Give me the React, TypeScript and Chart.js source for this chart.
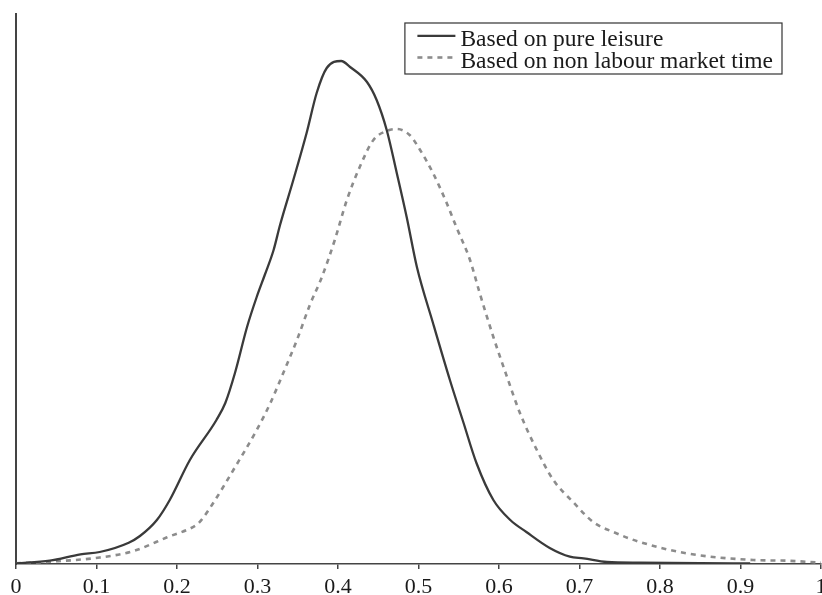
import React, { useEffect, useRef } from "react";
import { Chart, registerables } from "chart.js";

Chart.register(...registerables);

const seriesLabels = ["Based on pure leisure", "Based on non labour market time"];

const leisureX = [
  0.0, 0.042, 0.08, 0.104, 0.14, 0.154, 0.175, 0.191, 0.216, 0.249, 0.26, 0.272, 0.287, 0.299,
  0.309, 0.32, 0.328, 0.3445, 0.361, 0.3735, 0.386, 0.404, 0.415, 0.436, 0.448, 0.4605, 0.473,
  0.4853, 0.498, 0.518, 0.539, 0.556, 0.572, 0.593, 0.614, 0.634, 0.663, 0.688, 0.705, 0.734,
  0.775, 0.85, 0.912,
];
const leisureY = [
  0.007, 0.033, 0.097, 0.12, 0.213, 0.28, 0.44, 0.64, 1.04, 1.44, 1.61, 1.91, 2.37, 2.67, 2.89,
  3.14, 3.39, 3.84, 4.31, 4.71, 4.96, 5.03, 4.97, 4.82, 4.64, 4.34, 3.91, 3.47, 2.97, 2.41, 1.84,
  1.41, 1.01, 0.64, 0.44, 0.32, 0.16, 0.073, 0.057, 0.02, 0.013, 0.008, 0.005,
];

const nonMarketX = [
  0.0, 0.042, 0.104, 0.146, 0.187, 0.224, 0.2286, 0.245, 0.27, 0.299, 0.316, 0.332, 0.349, 0.365,
  0.38, 0.396, 0.411, 0.427, 0.444, 0.4605, 0.473, 0.489, 0.502, 0.518, 0.535, 0.547, 0.564,
  0.576, 0.593, 0.61, 0.626, 0.647, 0.6675, 0.692, 0.717, 0.742, 0.775, 0.833, 0.916, 0.957, 1.0,
];
const nonMarketY = [
  0.007, 0.023, 0.065, 0.13, 0.265, 0.39, 0.423, 0.61, 0.94, 1.34, 1.61, 1.91, 2.24, 2.59, 2.87,
  3.24, 3.64, 3.97, 4.24, 4.33, 4.35, 4.29, 4.14, 3.91, 3.61, 3.37, 3.04, 2.71, 2.27, 1.87, 1.51,
  1.14, 0.84, 0.62, 0.42, 0.32, 0.22, 0.107, 0.04, 0.033, 0.013,
];

const xTickLabels = ["0", "0.1", "0.2", "0.3", "0.4", "0.5", "0.6", "0.7", "0.8", "0.9", "1"];

const SERIF = "'Liberation Serif', 'Times New Roman', serif";

const boxLegend = {
  id: "boxLegend",
  afterDraw(chart: any) {
    const { ctx, chartArea } = chart;
    const fontSize = 23.5;
    ctx.save();
    ctx.font = `${fontSize}px ${SERIF}`;
    const dsets = chart.data.datasets;
    let maxW = 0;
    dsets.forEach((d: any) => {
      maxW = Math.max(maxW, ctx.measureText(d.label).width);
    });
    const padL = 12.5;
    const lineLen = 38;
    const gap = 5;
    const padR = 9;
    const right = chartArea.right - 39;
    const left = right - (padL + lineLen + gap + maxW + padR);
    const top = chartArea.top + 9;
    const rowH = 21.7;
    const height = 51;
    ctx.strokeStyle = "#333";
    ctx.lineWidth = 1.2;
    ctx.strokeRect(left, top, right - left, height);
    dsets.forEach((d: any, i: number) => {
      const baseline = top + 23.3 + i * rowH;
      const ly = baseline - 10.5;
      ctx.beginPath();
      ctx.setLineDash(d.borderDash || []);
      ctx.strokeStyle = d.borderColor;
      ctx.lineWidth = d.borderWidth;
      ctx.moveTo(left + padL, ly);
      ctx.lineTo(left + padL + lineLen, ly);
      ctx.stroke();
      ctx.setLineDash([]);
      ctx.fillStyle = "#1a1a1a";
      ctx.textBaseline = "alphabetic";
      ctx.textAlign = "left";
      ctx.fillText(d.label, left + padL + lineLen + gap, baseline);
    });
    ctx.restore();
  },
};

export default function App() {
  const canvasRef = useRef<HTMLCanvasElement | null>(null);

  useEffect(() => {
    document.body.style.margin = "0";
    const canvas = canvasRef.current;
    if (!canvas) return;
    const chart = new Chart(canvas, {
      type: "line",
      data: {
        datasets: [
          {
            label: seriesLabels[0],
            data: leisureX.map((x, i) => ({ x, y: leisureY[i] })),
            borderColor: "#3a3a3a",
            borderWidth: 2.3,
            pointRadius: 0,
            fill: false,
            tension: 0.4,
            cubicInterpolationMode: "monotone",
          },
          {
            label: seriesLabels[1],
            data: nonMarketX.map((x, i) => ({ x, y: nonMarketY[i] })),
            borderColor: "#8c8c8c",
            borderWidth: 2.6,
            borderDash: [5, 5],
            pointRadius: 0,
            fill: false,
            tension: 0.4,
            cubicInterpolationMode: "monotone",
          },
        ],
      },
      options: {
        animation: false,
        responsive: false,
        maintainAspectRatio: false,
        devicePixelRatio: 1,
        layout: { padding: { top: 14, left: 16, right: 1, bottom: 0.4 } },
        plugins: {
          legend: { display: false },
          tooltip: { enabled: false },
        },
        scales: {
          x: {
            type: "linear",
            min: 0,
            max: 1,
            afterFit: (scale: any) => {
              scale.paddingLeft = 0;
              scale.paddingRight = 0;
            },
            afterBuildTicks: (scale: any) => {
              scale.ticks = xTickLabels.map((_, i) => ({ value: i / 10 }));
            },
            ticks: {
              autoSkip: false,
              maxRotation: 0,
              padding: 4.6,
              color: "#1a1a1a",
              font: { family: SERIF, size: 22, lineHeight: 1.2 },
              callback: (_v: any, i: number) => xTickLabels[i],
            },
            grid: {
              display: true,
              drawOnChartArea: false,
              drawTicks: true,
              tickLength: 5,
              color: "#444",
              lineWidth: 1.5,
            },
            border: { display: true, color: "#444", width: 1.6 },
          },
          y: {
            type: "linear",
            min: 0,
            max: 5.5,
            ticks: { display: false },
            grid: { display: false, drawTicks: false },
            border: { display: true, color: "#444", width: 2 },
          },
        },
      },
      plugins: [boxLegend],
    });
    return () => chart.destroy();
  }, []);

  return (
    <div style={{ width: 822, height: 595, overflow: "hidden", background: "#fff" }}>
      <canvas
        ref={canvasRef}
        width={822}
        height={605}
        style={{ display: "block", width: 822, height: 605 }}
      />
    </div>
  );
}
